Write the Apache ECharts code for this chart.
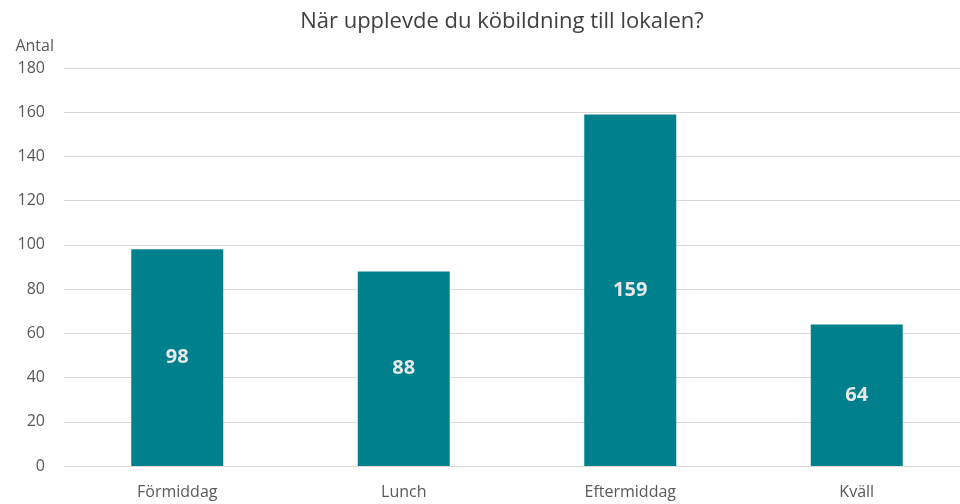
<!DOCTYPE html>
<html>
<head>
<meta charset="utf-8">
<script src="https://cdn.jsdelivr.net/npm/echarts@6/dist/echarts.min.js"></script>
<style>
  html, body { margin: 0; padding: 0; background: #fff; overflow: hidden; }
  #chart { width: 980px; height: 504px; }
</style>
</head>
<body>
<div id="chart"></div>
<script>
var categories = ['Förmiddag', 'Lunch', 'Eftermiddag', 'Kväll'];
var counts = [98, 88, 159, 64];
var yMax = 180;
var yStep = 20;

// plot area runs a bit past the right edge of the window, like the original
var chart = echarts.init(document.getElementById('chart'));
var font = '"Open Sans", sans-serif';
var option = {
    animation: false,
    title: {
        text: 'När upplevde du köbildning till lokalen?',
        left: 497,
        top: 6,
        textAlign: 'center',
        textStyle: { fontFamily: font, fontSize: 22, fontWeight: 'normal', color: '#404040' }
    },
    grid: { left: 64, right: 10, top: 68, bottom: 38, containLabel: false },
    xAxis: {
        type: 'category',
        data: categories,
        axisLine: { lineStyle: { color: '#d9d9d9' } },
        axisTick: { show: false },
        axisLabel: { fontFamily: font, fontSize: 16, color: '#595959', margin: 18 }
    },
    yAxis: {
        type: 'value',
        name: 'Antal',
        nameLocation: 'end',
        nameGap: 14,
        nameTextStyle: { fontFamily: font, fontSize: 16, color: '#595959', align: 'right', padding: [0, 10, 0, 0] },
        min: 0,
        max: yMax,
        interval: yStep,
        axisLine: { show: false },
        axisTick: { show: false },
        axisLabel: { fontFamily: font, fontSize: 16, color: '#595959', margin: 19 },
        splitLine: { lineStyle: { color: '#d9d9d9' } }
    },
    series: [{
        type: 'bar',
        data: counts,
        barWidth: 92,
        itemStyle: { color: '#00808c' },
        label: {
            show: true,
            position: 'inside',
            fontFamily: font,
            fontSize: 20,
            fontWeight: 'bold',
            color: '#e8e8e8'
        }
    }]
};
chart.setOption(option);
</script>
</body>
</html>
